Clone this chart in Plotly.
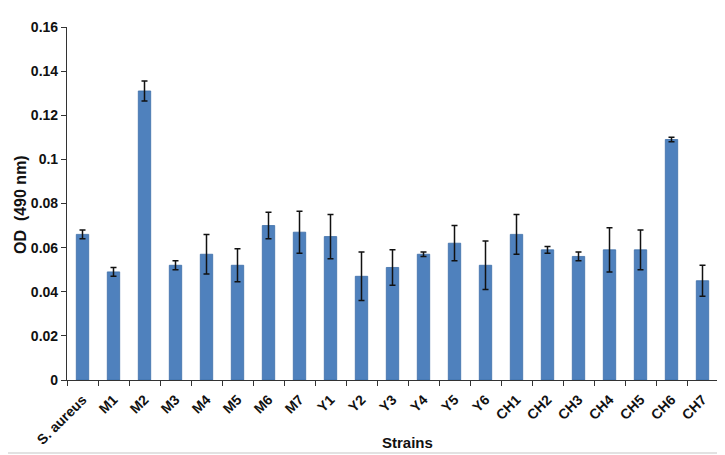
import plotly.graph_objects as go

strains = ["S. aureus", "M1", "M2", "M3", "M4", "M5", "M6", "M7", "Y1", "Y2", "Y3",
           "Y4", "Y5", "Y6", "CH1", "CH2", "CH3", "CH4", "CH5", "CH6", "CH7"]
od_values = [0.066, 0.049, 0.131, 0.052, 0.057, 0.052, 0.070, 0.067, 0.065, 0.047, 0.051,
             0.057, 0.062, 0.052, 0.066, 0.059, 0.056, 0.059, 0.059, 0.109, 0.045]
od_errors = [0.002, 0.002, 0.0045, 0.002, 0.009, 0.0075, 0.006, 0.0095, 0.010, 0.011, 0.008,
             0.001, 0.008, 0.011, 0.009, 0.0015, 0.002, 0.010, 0.009, 0.001, 0.007]
y_ticks = [0, 0.02, 0.04, 0.06, 0.08, 0.1, 0.12, 0.14, 0.16]
y_tick_labels = ["0", "0.02", "0.04", "0.06", "0.08", "0.1", "0.12", "0.14", "0.16"]

FONT = "Liberation Sans"

# page offset caused by the default 8px body margin of the html page
OFF = 8
PAGE_W, PAGE_H = 725, 455
W, H = PAGE_W - OFF, PAGE_H - OFF
# desired plot area in page pixels
PL, PR, PT, PB = 67, 718, 27, 380
ml, mt = PL - OFF, PT - OFF
mr = W - (PR - OFF)
mb = H - (PB - OFF)
pw, ph = PR - PL, PB - PT


def px(x):
    return (x - PL) / pw


def py(y):
    return (PB - y) / ph


fig = go.Figure()
fig.add_trace(go.Bar(
    x=strains, y=od_values,
    marker=dict(color="#4F81BD", line=dict(color="#3E6EA8", width=0.8)),
    error_y=dict(type="data", array=od_errors, visible=True,
                 color="#111111", thickness=1.5, width=3),
    width=0.4,
))

fig.update_layout(
    width=W, height=H,
    margin=dict(l=ml, r=mr, t=mt, b=mb, autoexpand=False),
    paper_bgcolor="white", plot_bgcolor="white",
    showlegend=False,
    font=dict(family=FONT, color="#111111"),
    xaxis=dict(
        type="category",
        automargin=False,
        tickangle=-45,
        tickfont=dict(family=FONT, size=14, color="#111111", weight="bold"),
        ticklabelstandoff=5,
        showline=True, linecolor="#333333", linewidth=1.2,
        ticks="outside", ticklen=5, tickcolor="#333333", tickwidth=1.2,
        tickson="boundaries",
        showgrid=False,
    ),
    yaxis=dict(
        automargin=False,
        range=[0, 0.16],
        tickvals=y_ticks, ticktext=y_tick_labels,
        tickfont=dict(family=FONT, size=14, color="#111111", weight="bold"),
        showline=True, linecolor="#333333", linewidth=1.2,
        ticks="outside", ticklen=5, tickcolor="#333333", tickwidth=1.2,
        showgrid=False, zeroline=False,
    ),
    annotations=[
        dict(text="<b>Strains</b>", xref="paper", yref="paper",
             x=px(407), y=py(442),
             showarrow=False, xanchor="center", yanchor="middle",
             font=dict(family=FONT, size=15, color="#111111")),
        dict(text="<b>OD  (490 nm)</b>", xref="paper", yref="paper",
             x=px(20), y=py(205), textangle=-90,
             showarrow=False, xanchor="center", yanchor="middle",
             font=dict(family=FONT, size=16, color="#111111")),
    ],
    shapes=[
        dict(type="line", xref="paper", yref="paper",
             x0=px(PAGE_W - 2), x1=px(PAGE_W - 2), y0=py(PAGE_H - 2), y1=py(OFF),
             line=dict(color="#D9D9D9", width=1.5), layer="below"),
        dict(type="line", xref="paper", yref="paper",
             x0=px(OFF), x1=px(PAGE_W - 2), y0=py(PAGE_H - 2), y1=py(PAGE_H - 2),
             line=dict(color="#D9D9D9", width=1.5), layer="below"),
    ],
)

fig.write_html("out.html")
